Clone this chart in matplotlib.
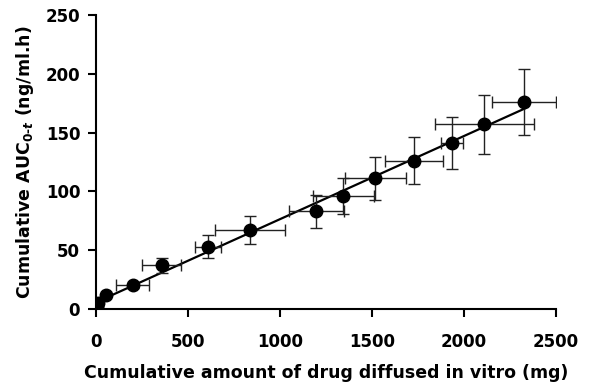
import numpy as np
import matplotlib
matplotlib.use('Agg')
import matplotlib.pyplot as plt

plt.rcParams['font.family'] = 'DejaVu Sans'
plt.rcParams['font.weight'] = 'bold'
plt.rcParams['mathtext.fontset'] = 'custom'
plt.rcParams['mathtext.rm'] = 'DejaVu Sans:bold'
plt.rcParams['mathtext.bf'] = 'DejaVu Sans:bold'

# cumulative amount diffused in vitro (mg) vs cumulative AUC (ng/ml.h)
x = [3, 8, 55, 200, 357, 607, 837, 1198, 1344, 1518, 1730, 1935, 2110, 2328]
y = [2, 5, 12, 20, 37, 53, 67, 83, 96, 111, 126, 141, 157, 176]
xerr = [0, 0, 0, 90, 105, 72, 190, 148, 166, 166, 158, 61, 269, 174]
yerr = [0, 0, 0, 2, 6, 10, 12, 14, 15, 18, 20, 22, 25, 28]

x = np.array(x)
y = np.array(y)
slope, icpt = np.polyfit(x, y, 1)

fig = plt.figure(figsize=(5.9, 3.86), dpi=100)
ax = fig.add_axes([0.163, 0.1995, 0.779, 0.7615])

xl = np.array([0, x.max()])
ax.plot(xl, slope * xl + icpt, color='black', lw=1.6, zorder=2)
ax.errorbar(x, y, xerr=xerr, yerr=yerr, fmt='o', color='black', ms=9,
            ecolor='#222222', elinewidth=1, capsize=4, capthick=1, zorder=3)

ax.set_xlim(0, 2500)
ax.set_ylim(0, 250)
ax.set_xticks(np.arange(0, 2501, 500))
ax.set_yticks(np.arange(0, 251, 50))
for s in ['top', 'right']:
    ax.spines[s].set_visible(False)
for s in ['left', 'bottom']:
    ax.spines[s].set_linewidth(1.5)
ax.tick_params(direction='out', length=5.5, width=1.5, labelsize=12, pad=6)
ax.tick_params(axis='x', pad=12)
ax.set_xlabel('Cumulative amount of drug diffused in vitro (mg)', fontsize=12.5,
              fontweight='bold', labelpad=9)
ax.set_ylabel('Cumulative AUC$_{0\u2010t}$ (ng/ml.h)', fontsize=12.5,
              fontweight='bold', labelpad=7)

fig.savefig('out.png', dpi=100)
